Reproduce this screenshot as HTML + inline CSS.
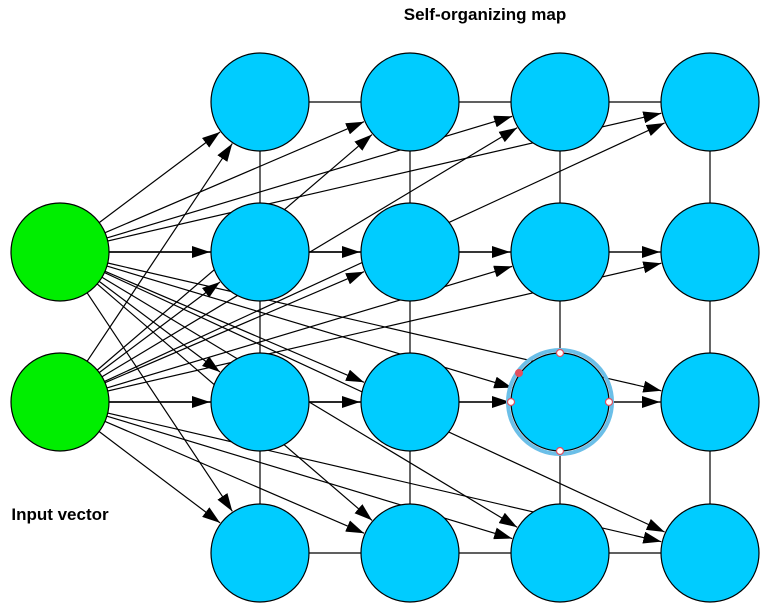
<!DOCTYPE html>
<html><head><style>body{margin:0;background:#fff}</style></head><body>
<svg id="s" width="767" height="607" xmlns="http://www.w3.org/2000/svg" font-family="Liberation Sans, sans-serif">
<defs><marker id="a" markerWidth="18" markerHeight="12" refX="18" refY="6" orient="auto" markerUnits="userSpaceOnUse"><path d="M0,0 L18,6 L0,12 Z" fill="#000"/></marker></defs>
<g id="grid" stroke="#000" stroke-width="1.2"></g>
<g id="lines" stroke="#000" stroke-width="1.2" fill="none"></g>
<g id="nodes" stroke="#000" stroke-width="1.2"></g>
<text x="485" y="20" text-anchor="middle" font-weight="bold" font-size="17">Self-organizing map</text>
<text x="60" y="520" text-anchor="middle" font-weight="bold" font-size="17">Input vector</text>
</svg>
<script>
var X=[260,410,560,710],Y=[102,252,402,553],r=49,ns="http://www.w3.org/2000/svg";
function el(g,t,a){var e=document.createElementNS(ns,t);for(var k in a)e.setAttribute(k,a[k]);document.getElementById(g).appendChild(e);return e;}
for(var i=0;i<4;i++)for(var j=0;j<4;j++){if(i<3)el('grid','line',{x1:X[i],y1:Y[j],x2:X[i+1],y2:Y[j]});if(j<3)el('grid','line',{x1:X[i],y1:Y[j],x2:X[i],y2:Y[j+1]});}
var G=[[60,252],[60,402]];
G.forEach(function(g){for(var i=0;i<4;i++)for(var j=0;j<4;j++){var dx=X[i]-g[0],dy=Y[j]-g[1],d=Math.hypot(dx,dy),ux=dx/d,uy=dy/d;
el('lines','line',{x1:g[0]+ux*r,y1:g[1]+uy*r,x2:X[i]-ux*(r+1),y2:Y[j]-uy*(r+1),'marker-end':'url(#a)'});}});
G.forEach(function(g){el('nodes','circle',{cx:g[0],cy:g[1],r:r,fill:'#00ee00'});});
for(var i=0;i<4;i++)for(var j=0;j<4;j++){if(i==2&&j==2)el('nodes','circle',{cx:560,cy:402,r:r+3,fill:'none',stroke:'#6bbfe8','stroke-width':4});el('nodes','circle',{cx:X[i],cy:Y[j],r:r,fill:'#00ccff'});}
[[560,353],[560,451],[511,402],[609,402]].forEach(function(p){el('nodes','circle',{cx:p[0],cy:p[1],r:3.5,fill:'#fff',stroke:'#e05060'});});
el('nodes','circle',{cx:519,cy:373,r:4,fill:'#e05060',stroke:'none'});
</script>
</body></html>
